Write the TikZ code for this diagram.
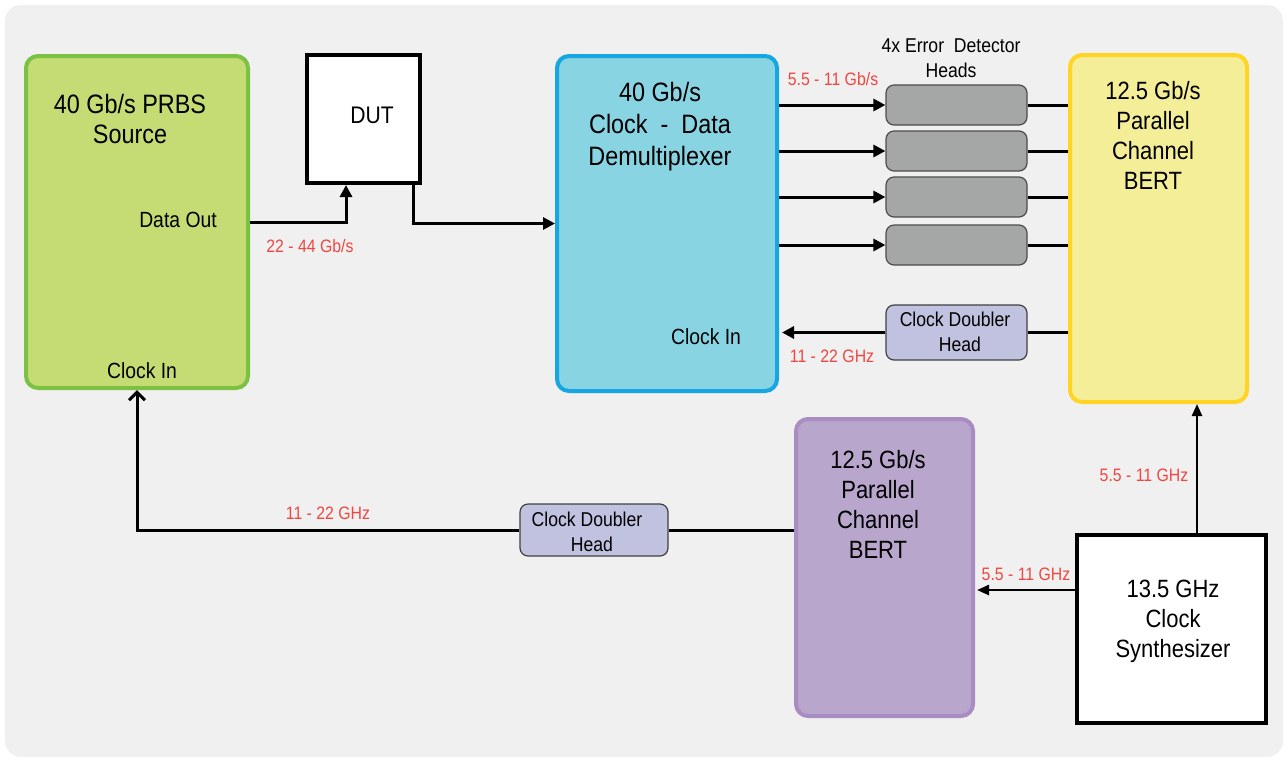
\documentclass[tikz,border=0pt]{standalone}
\usepackage{fontspec}
\setmainfont{Liberation Sans}[FakeStretch=0.88]
\usetikzlibrary{positioning,arrows.meta}

\definecolor{pagegray}{RGB}{239,240,239}
\definecolor{srcfill}{RGB}{197,220,117}
\definecolor{srcline}{RGB}{125,193,67}
\definecolor{demuxfill}{RGB}{137,212,226}
\definecolor{demuxline}{RGB}{22,166,225}
\definecolor{bertfill}{RGB}{244,238,152}
\definecolor{bertline}{RGB}{255,212,36}
\definecolor{lilacfill}{RGB}{184,166,205}
\definecolor{lilacline}{RGB}{169,140,194}
\definecolor{headfill}{RGB}{165,167,167}
\definecolor{doublerfill}{RGB}{193,193,224}
\definecolor{ratered}{RGB}{240,70,66}

\begin{document}
\begin{tikzpicture}[x=0.5pt, y=-0.5pt,
    unit/.style = {draw, line width = 2pt, rounded corners = 6pt, inner sep = 0pt},
    plainbox/.style = {draw = black, fill = white, line width = 2pt, inner sep = 0pt},
    headbox/.style = {draw = black!70, fill = headfill, line width = 0.6pt,
        rounded corners = 4pt, minimum width = 70.5pt, minimum height = 20pt},
    doubler/.style = {draw = black!75, fill = doublerfill, line width = 0.6pt,
        rounded corners = 4pt, inner sep = 0pt},
    title/.style = {align = center, font = \fontsize{13.3}{15}\selectfont},
    bertname/.style = {align = center, font = \fontsize{12.5}{15}\selectfont},
    port/.style = {font = \fontsize{11}{13}\selectfont},
    small/.style = {align = center, font = \fontsize{10}{12.5}\selectfont},
    rate/.style = {text = ratered, font = \fontsize{9}{10}\selectfont},
    wire/.style = {line width = 1.5pt},
    feed/.style = {wire, -{Triangle[length = 6pt, width = 6pt]}},
    openfeed/.style = {wire, -{Straight Barb[length = 4pt, width = 8pt]}}]

    \useasboundingbox (0,0) rectangle (1288,761);
    \fill [pagegray, rounded corners = 8pt] (5,5) rectangle (1283,757);

    % instruments
    \node [unit, draw = srcline, fill = srcfill, minimum width = 111pt, minimum height = 166pt] (src) at (137,222) {};
    \node [plainbox, minimum width = 56.5pt, minimum height = 64pt] (dut) at (363.5,119) {};
    \node [unit, draw = demuxline, fill = demuxfill, minimum width = 110pt, minimum height = 167.5pt] (demux) at (667,223.5) {};
    \node [unit, draw = bertline, fill = bertfill, minimum width = 88.5pt, minimum height = 173.5pt] (bertA) at (1158.5,228.5) {};
    \node [unit, draw = lilacline, fill = lilacfill, minimum width = 88.5pt, minimum height = 148.5pt] (bertB) at (884.5,567.5) {};
    \node [plainbox, minimum width = 94.5pt, minimum height = 94pt] (synth) at (1171.5,629) {};

    % heads
    \node [headbox] (head1) at (956.5,105) {};
    \node [headbox] (head2) at (956.5,151) {};
    \node [headbox] (head3) at (956.5,197) {};
    \node [headbox] (head4) at (956.5,245) {};
    \node [doubler, minimum width = 70.5pt, minimum height = 27.5pt] (cdhA) at (956.5,332.5) {};
    \node [doubler, minimum width = 74pt, minimum height = 26pt] (cdhB) at (594,530) {};

    % texts
    \node [title] (srcname) at (130,119) {40 Gb/s PRBS\\Source};
    \node [port] (dataout) at (178,220) {Data Out};
    \node [port] (srcclk) at (142,371) {Clock In};
    \node [font = \fontsize{12}{14}\selectfont] (dutname) at (372,115) {DUT};
    \node [title, font = \fontsize{13.3}{16}\selectfont] (demuxname) at (660,127) {40 Gb/s\\Clock \ - \ Data\\Demultiplexer};
    \node [port] (demuxclk) at (706,337) {Clock In};
    \node [small] (headsname) at (951,58) {4x Error \ Detector\\Heads};
    \node [bertname] (bertAname) at (1153,135) {12.5 Gb/s\\Parallel\\Channel\\BERT};
    \node [bertname] (bertBname) at (878,504) {12.5 Gb/s\\Parallel\\Channel\\BERT};
    \node [bertname] (synthname) at (1173,621) {13.5 GHz\\Clock\\Synthesizer};
    \node [small] (cdhAname) at (955,332) {Clock Doubler\\\ \ Head};
    \node [small] (cdhBname) at (587,532) {Clock Doubler\\\ \ Head};

    % rates
    \node [rate] (rateout) at (310,246) {22 - 44 Gb/s};
    \node [rate] (ratedemux) at (833,79) {5.5 - 11 Gb/s};
    \node [rate] (rateclkA) at (832,356) {11 - 22 GHz};
    \node [rate] (rateclkB) at (328,513) {11 - 22 GHz};
    \node [rate] (ratesynA) at (1144,475) {5.5 - 11 GHz};
    \node [rate] (ratesynB) at (1026,574) {5.5 - 11 GHz};

    % data path
    \draw [feed] (src.east) -| ([xshift = -8.75pt]dut.south);
    \draw [feed] ([xshift = 24.75pt]dut.south) |- (demux.west);
    \foreach \i in {1,...,4} {
        \draw [feed] (demux.east |- head\i) -- (head\i.west);
        \draw [wire] (head\i.east) -- (bertA.west |- head\i);
    }

    % clock path
    \draw [wire] (bertA.west |- cdhA) -- (cdhA.east);
    \draw [feed] (cdhA.west) -- ([xshift = 1.5pt]demux.east |- cdhA);
    \coordinate (synup) at ([xshift = 12.75pt]synth.north);
    \draw [wire, -{Triangle[length = 6pt, width = 5pt]}, line width = 1.2pt] (synup) -- (synup |- bertA.south);
    \coordinate (synleft) at ([yshift = 19.5pt]synth.west);
    \draw [wire, -{Triangle[length = 6pt, width = 5pt]}, line width = 1.2pt] (synleft) -- ([xshift = 1pt]bertB.east |- synleft);
    \draw [wire] (bertB.west |- cdhB) -- (cdhB.east);
    \draw [openfeed] (cdhB.west) -| (src.south);
\end{tikzpicture}
\end{document}
